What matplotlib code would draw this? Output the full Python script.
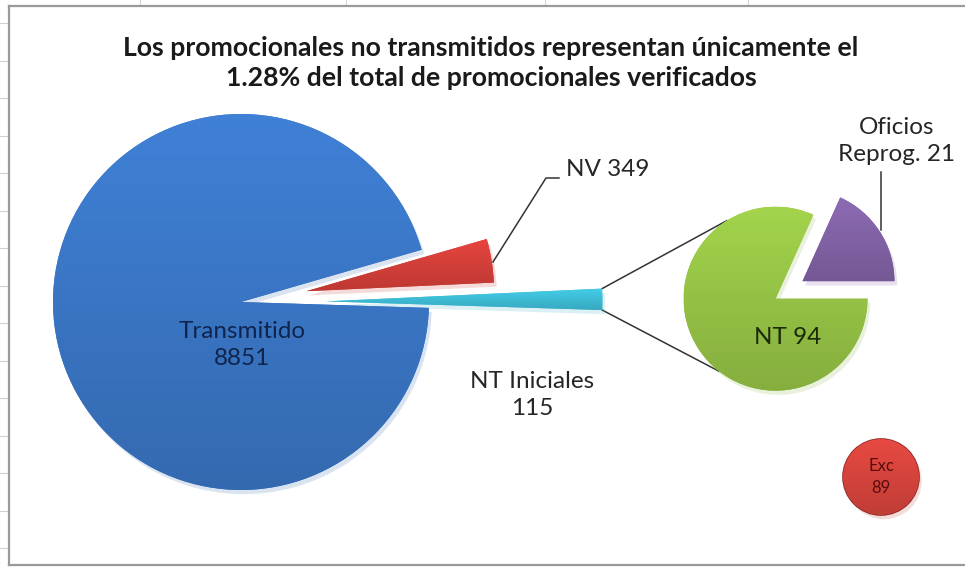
"""Pie-of-pie: promocionales transmitidos vs. no transmitidos."""

import numpy as np
import matplotlib
matplotlib.use('Agg')
import matplotlib.pyplot as plt
from matplotlib.colors import to_rgb
from matplotlib.patches import Circle
from matplotlib import patheffects as pe

W, H = 965, 567

TITLE = ('Los promocionales no transmitidos representan únicamente el\n'
         '1.28% del total de promocionales verificados')

# main pie (counter-clockwise from the right)
main_labels = ['NT Iniciales', 'NV', 'Transmitido']
main_values = [115, 349, 8851]
main_colors = ['#3FC0DA', '#D8403A', '#3B78C8']

# secondary pie: breakdown of "NT Iniciales"
sub_labels = ['Oficios\nReprog.', 'NT']
sub_values = [21, 94]
sub_colors = ['#8464A8', '#98C647']

exc_label = 'Exc'
exc_value = 89

plt.rcParams['font.family'] = ['Lato', 'DejaVu Sans']


def Y(py):
    """Pixel row (from top) to data y."""
    return H - py


def shade(ax, patch, color, top=1.07, bottom=0.88):
    """Fill a patch with a soft vertical gradient clipped to its shape."""
    rgb = np.array(to_rgb(color))
    ramp = np.linspace(top, bottom, 64)[:, None, None]
    img = np.clip(rgb[None, None, :] * ramp, 0, 1) * np.ones((64, 2, 3))
    bb = patch.get_path().transformed(patch.get_patch_transform()).get_extents()
    im = ax.imshow(img, extent=[bb.x0, bb.x1, bb.y0, bb.y1], origin='upper',
                   aspect='auto', zorder=patch.get_zorder() + 0.1,
                   interpolation='bilinear')
    im.set_clip_path(patch)


fig = plt.figure(figsize=(W / 100, H / 100), dpi=100, facecolor='white')
ax = fig.add_axes([0, 0, 1, 1])

shadow = [pe.SimplePatchShadow(offset=(2, -3), alpha=0.18, rho=0.9), pe.Normal()]

# main pie (explode is in data units here: pixels)
main_wedges, _ = ax.pie(main_values, colors=main_colors, startangle=-1.8,
                        counterclock=True, center=(241, Y(302)), radius=188,
                        explode=[85, 66, 0],
                        wedgeprops=dict(ec='none', lw=0))
cyan = main_wedges[0]
cyan.set_radius(cyan.r * 1.47)
for w, c in zip(main_wedges, main_colors):
    w.set_path_effects(shadow)
    w.set_zorder(2 if w is not cyan else 1.8)
    shade(ax, w, c)

# secondary pie
sub_wedges, _ = ax.pie(sub_values, colors=sub_colors, startangle=0,
                       counterclock=True, center=(789, Y(290)), radius=92,
                       explode=[16, 16],
                       wedgeprops=dict(ec='none', lw=0))
for w, c in zip(sub_wedges, sub_colors):
    w.set_path_effects(shadow)
    w.set_zorder(2)
    shade(ax, w, c)

# the figure is W x H pixels, so data units == pixels
ax.set_aspect('auto')
ax.set_position([0, 0, 1, 1])
ax.set_xlim(0, W)
ax.set_ylim(0, H)
ax.set_axis_off()

# chart frame (left, top, bottom) + faint sheet gridline stubs
frame_kw = dict(color='#9a9a9a', lw=1.6, zorder=0.5)
ax.plot([9, W + 5], [Y(6), Y(6)], **frame_kw)
ax.plot([9, 9], [Y(6), Y(565)], **frame_kw)
ax.plot([9, W + 5], [Y(565), Y(565)], **frame_kw)
for py in np.arange(23, 560, 37.5):
    ax.plot([0, 7], [Y(py), Y(py)], color='#d0d0d0', lw=0.8, zorder=0.4)
for px in [140, 346, 545, 748]:
    ax.plot([px, px], [H, Y(5)], color='#d8d8d8', lw=0.8, zorder=0.4)

# connector lines: tip of the small slice -> secondary pie
cx, cy = cyan.center
green = sub_wedges[1]
gx, gy = green.center
for th, gth in [(cyan.theta2, 122), (cyan.theta1, 232)]:
    x0 = cx + cyan.r * np.cos(np.radians(th))
    y0 = cy + cyan.r * np.sin(np.radians(th))
    x1 = gx + green.r * np.cos(np.radians(gth))
    y1 = gy + green.r * np.sin(np.radians(gth))
    ax.plot([x0, x1], [y0, y1], color='#333333', lw=1.1, zorder=1.5)

# labels
lab_kw = dict(fontsize=17.5, color='#262626', ha='center', va='center',
              linespacing=1.35, zorder=5)
ax.text(242, Y(345), f'{main_labels[2]}\n{main_values[2]}',
        **{**lab_kw, 'color': '#10244e'})
ax.text(532, Y(395), f'{main_labels[0]}\n{main_values[0]}', **lab_kw)
ax.text(566, Y(170), f'{main_labels[1]} {main_values[1]}',
        **{**lab_kw, 'ha': 'left'})
ax.plot([493, 546, 559], [Y(262), Y(178), Y(178)], color='#333333', lw=1.1, zorder=4)
ax.text(788, Y(337), f'{sub_labels[1]} {sub_values[1]}',
        **{**lab_kw, 'color': '#1c2a08'})
ax.text(897, Y(141), f'{sub_labels[0]} {sub_values[0]}', **lab_kw)
ax.plot([881, 881], [Y(172), Y(230)], color='#333333', lw=1.1, zorder=4)

# "Exc" bubble
ball = Circle((881, Y(477)), 38, fc='#D6443D', ec='#8e2a25', lw=1.2, zorder=3)
ax.add_patch(ball)
ball.set_path_effects(shadow)
shade(ax, ball, '#D6443D', top=1.08, bottom=0.9)
ax.text(881, Y(477), f'{exc_label}\n{exc_value}', fontsize=12, color='#5a0c0c',
        ha='center', va='center', linespacing=1.45, zorder=5)

ax.text(491, Y(63), TITLE, fontsize=19.2, fontweight='bold', color='#1a1a1a',
        ha='center', va='center', linespacing=1.3, zorder=5)

fig.savefig('out.png', dpi=100)
